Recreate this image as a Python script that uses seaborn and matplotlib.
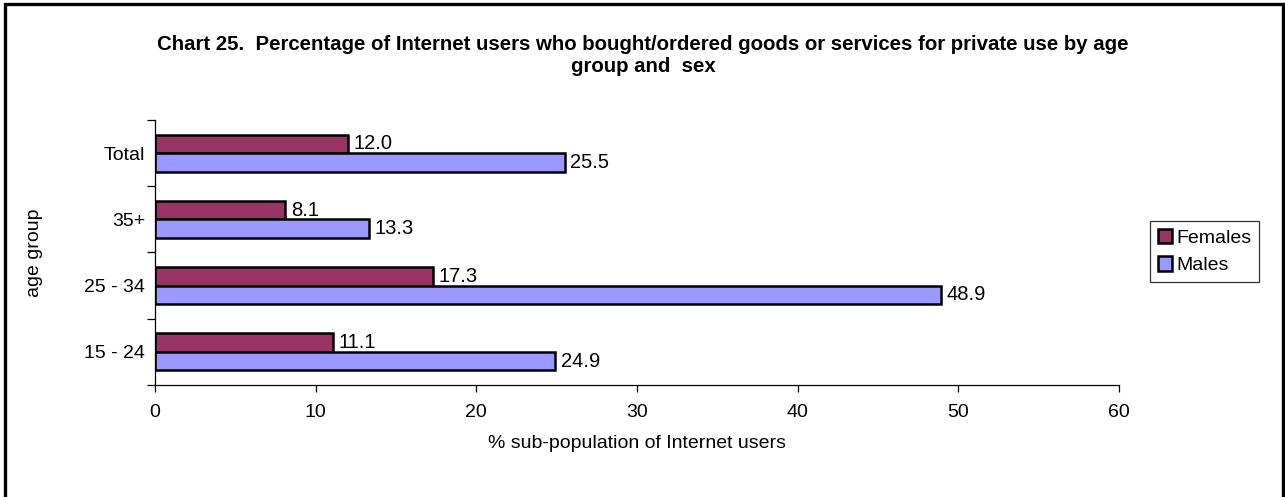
import matplotlib
matplotlib.use("Agg")
import matplotlib.pyplot as plt
from matplotlib.patches import Rectangle
import seaborn as sns
import pandas as pd

age_groups = ["Total", "35+", "25 - 34", "15 - 24"]
females = [12.0, 8.1, 17.3, 11.1]
males = [25.5, 13.3, 48.9, 24.9]
x_ticks = [0, 10, 20, 30, 40, 50, 60]

sns.set_theme(style="white")
plt.rcParams["font.family"] = ["Liberation Sans", "DejaVu Sans"]
plt.rcParams["text.color"] = "black"
plt.rcParams["axes.labelcolor"] = "black"
plt.rcParams["xtick.color"] = "black"
plt.rcParams["ytick.color"] = "black"

df = pd.DataFrame({
    "age": age_groups * 2,
    "value": females + males,
    "sex": ["Females"] * len(age_groups) + ["Males"] * len(age_groups),
})

fig = plt.figure(figsize=(12.85, 4.97), dpi=100)
ax = fig.add_axes([155 / 1285, 1 - 385 / 497, (1119 - 155) / 1285, (385 - 120) / 497])

sns.barplot(
    data=df, x="value", y="age", hue="sex", order=age_groups,
    hue_order=["Females", "Males"], palette=["#993366", "#9999FF"],
    orient="h", width=0.56, edgecolor="black", linewidth=1.8,
    saturation=1, ax=ax, errorbar=None,
)

for cont in ax.containers:
    ax.bar_label(cont, fmt="%.1f", padding=4, fontsize=14.5)

ax.set_xlim(0, 60)
ax.set_ylim(3.5, -0.5)
ax.set_xticks(x_ticks)
ax.tick_params(axis="x", length=5, width=0.9, labelsize=14, pad=9,
               direction="out", bottom=True)
ax.set_yticks(range(len(age_groups)))
ax.set_yticklabels(age_groups)
ax.tick_params(axis="y", which="major", length=0, labelsize=14, pad=7)
ax.set_yticks([-0.5, 0.5, 1.5, 2.5, 3.5], minor=True)
ax.tick_params(axis="y", which="minor", length=5.5, width=0.9, left=True)

for s in ["top", "right"]:
    ax.spines[s].set_visible(False)
for s in ["left", "bottom"]:
    ax.spines[s].set_color("black")
    ax.spines[s].set_linewidth(0.9)

ax.set_xlabel("% sub-population of Internet users", fontsize=14, labelpad=10)
ax.set_ylabel("age group", fontsize=14)
ax.yaxis.set_label_coords(-0.116, 0.5)

leg = ax.legend(
    loc="upper left", bbox_to_anchor=(1150 / 1285, 1 - 221 / 497),
    bbox_transform=fig.transFigure, frameon=True, fancybox=False,
    edgecolor="black", fontsize=14, handlelength=0.75, handleheight=0.75,
    handletextpad=0.2, borderpad=0.4, labelspacing=0.5, borderaxespad=0,
)
leg.get_frame().set_linewidth(0.9)
for h in leg.legend_handles:
    h.set_linewidth(1.8)

fig.text(643 / 1285, 1 - 44 / 497,
         "Chart 25.  Percentage of Internet users who bought/ordered goods or services for private use by age",
         ha="center", va="center", fontsize=14.7, fontweight="bold")
fig.text(643 / 1285, 1 - 67 / 497, "group and  sex",
         ha="center", va="center", fontsize=14.7, fontweight="bold")

fig.patches.append(Rectangle((5 / 1285, -0.05), (1283 - 5) / 1285, 1.05 - 4 / 497,
                             transform=fig.transFigure, fill=False,
                             edgecolor="black", linewidth=2.4))

fig.savefig("out.png", dpi=100)
